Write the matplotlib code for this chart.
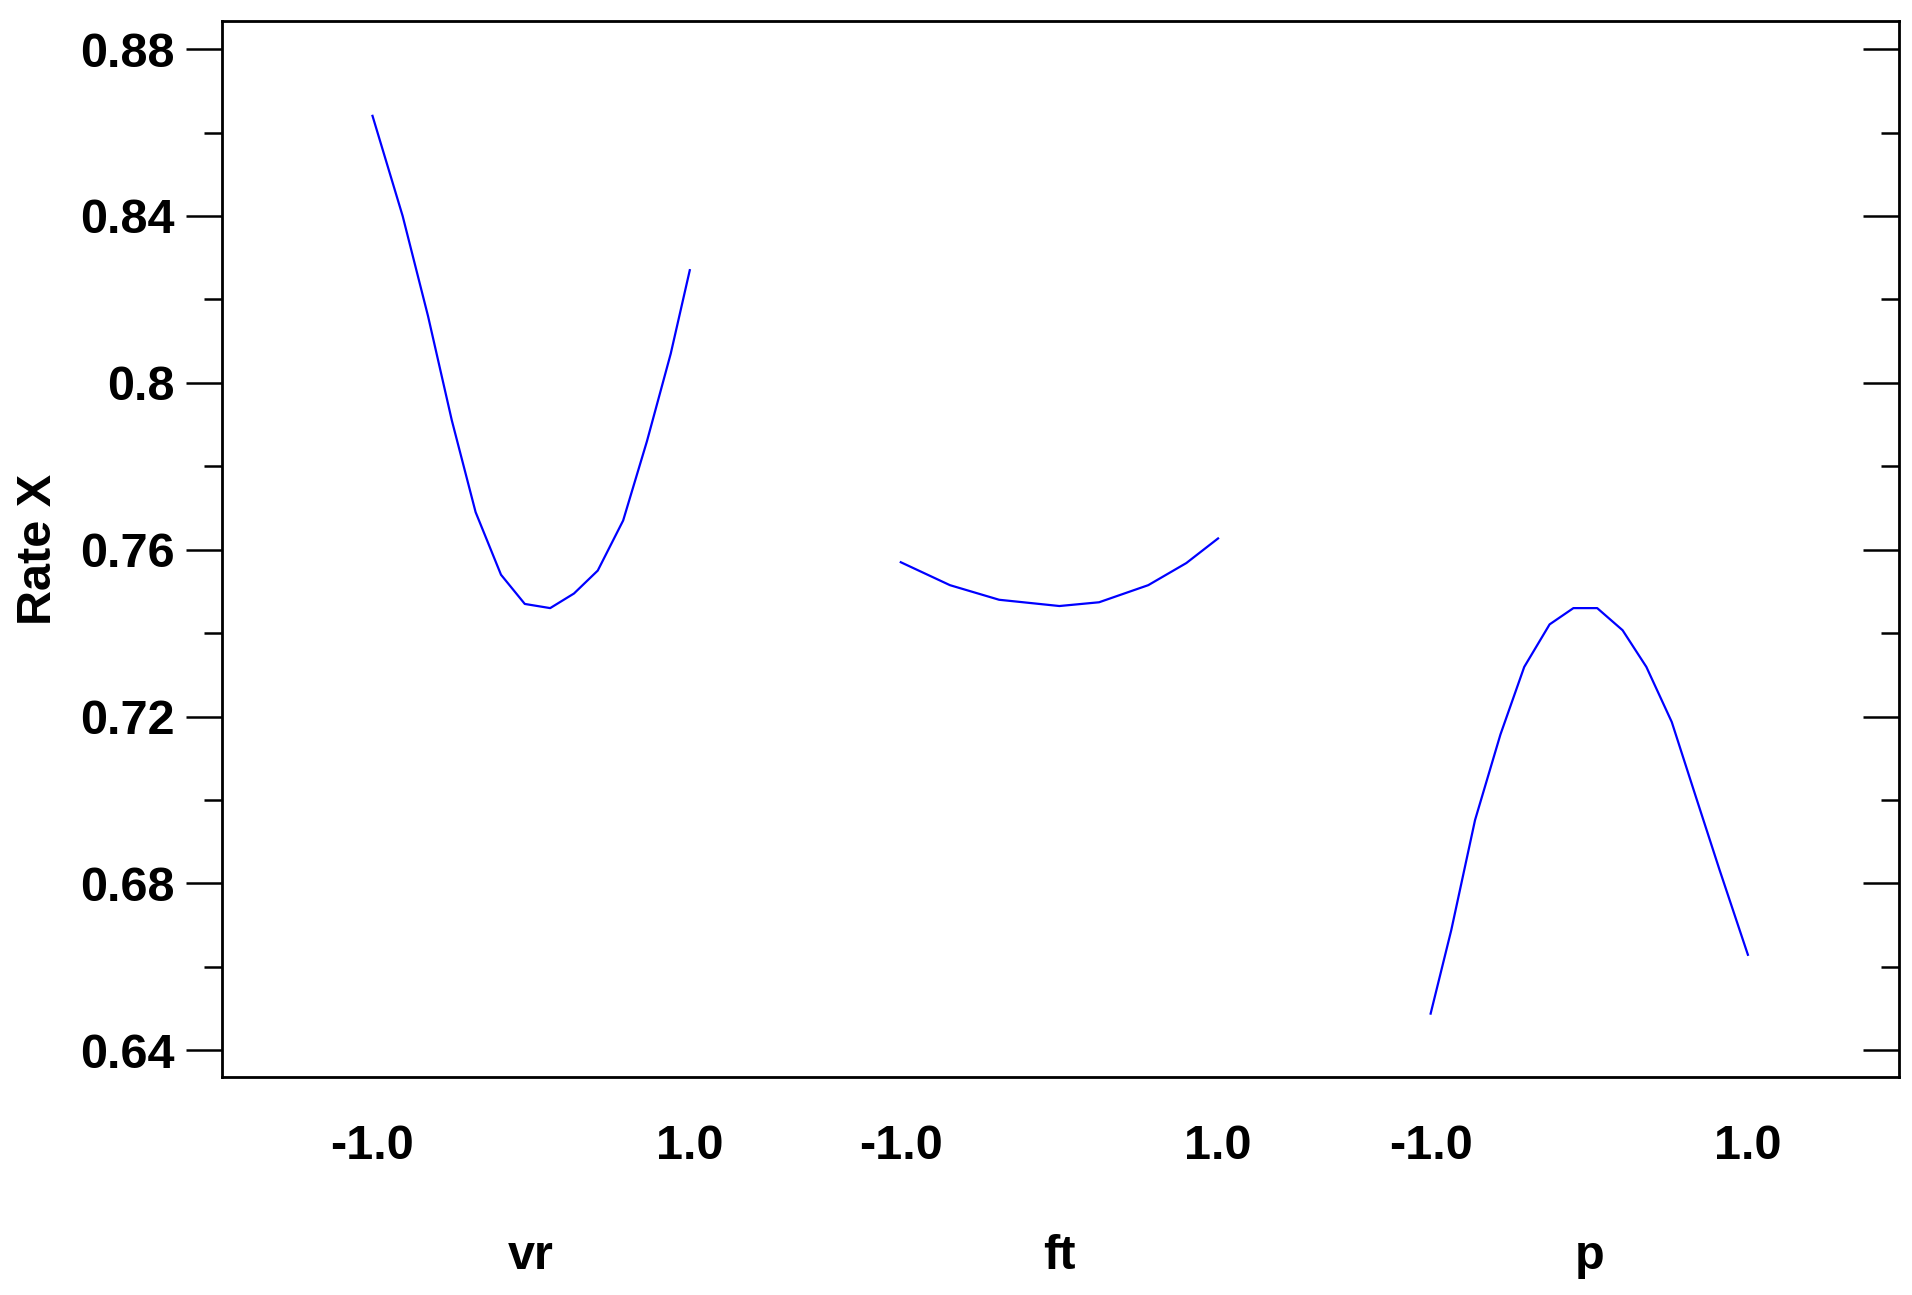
import matplotlib
matplotlib.use("Agg")
import matplotlib.pyplot as plt
from matplotlib.ticker import MultipleLocator, NullFormatter
from matplotlib.transforms import blended_transform_factory

plt.rcParams.update({
    "font.family": ["Liberation Sans", "DejaVu Sans"],
    "font.weight": "bold",
    "font.size": 35,
})

factors = ["vr", "ft", "p"]
centers = [0.0, 3.33, 6.67]

vr_x = [-1.0, -0.81, -0.65, -0.5, -0.35, -0.19, -0.04, 0.12, 0.27, 0.42, 0.58, 0.73, 0.88, 1.0]
vr_y = [0.864, 0.840, 0.816, 0.791, 0.769, 0.754, 0.747, 0.746, 0.7495, 0.755, 0.767, 0.786, 0.807, 0.827]

ft_x = [-1.0, -0.69, -0.38, 0.0, 0.25, 0.56, 0.8, 1.0]
ft_y = [0.757, 0.7515, 0.748, 0.7465, 0.7474, 0.7515, 0.7568, 0.7627]

p_x = [-1.0, -0.87, -0.72, -0.56, -0.41, -0.25, -0.1, 0.05, 0.21, 0.36, 0.52, 0.67, 0.82, 1.0]
p_y = [0.6488, 0.6688, 0.6952, 0.7157, 0.7319, 0.7421, 0.746, 0.746, 0.7407, 0.7319, 0.7187, 0.701, 0.6834, 0.6629]

series = [(vr_x, vr_y), (ft_x, ft_y), (p_x, p_y)]

fig = plt.figure(figsize=(19.12, 12.95), dpi=100)
ax = fig.add_axes([0.116, 0.168, 0.877, 0.816])

for c, (xs, ys) in zip(centers, series):
    ax.plot([c + x for x in xs], ys, color="#0000ff", linewidth=1.6)

ax.set_xlim(-1.95, 8.62)
ax.set_ylim(0.6335, 0.8868)
ax.set_yticks([0.64, 0.68, 0.72, 0.76, 0.8, 0.84, 0.88])
ax.set_yticklabels(["0.64", "0.68", "0.72", "0.76", "0.8", "0.84", "0.88"])
ax.yaxis.set_minor_locator(MultipleLocator(0.02))
ax.set_xticks([])
ax.tick_params(axis="y", which="both", direction="out", width=1.8, pad=8)
ax.tick_params(axis="y", which="major", length=26)
ax.tick_params(axis="y", which="minor", length=13)
for s in ax.spines.values():
    s.set_linewidth(2.0)
ax.set_ylabel("Rate X", labelpad=14, fontweight="bold")

# right side ticks point inward
rax = ax.twinx()
rax.set_ylim(ax.get_ylim())
rax.set_yticks(ax.get_yticks())
rax.yaxis.set_minor_locator(MultipleLocator(0.02))
rax.yaxis.set_major_formatter(NullFormatter())
rax.tick_params(axis="y", which="both", direction="in", width=1.8)
rax.tick_params(axis="y", which="major", length=26)
rax.tick_params(axis="y", which="minor", length=13)

trans = blended_transform_factory(ax.transData, fig.transFigure)
for name, c in zip(factors, centers):
    ax.text(c - 1, 0.115, "-1.0", transform=trans, ha="center", va="center")
    ax.text(c + 1, 0.115, "1.0", transform=trans, ha="center", va="center")
    ax.text(c, 0.03, name, transform=trans, ha="center", va="center")

fig.savefig("out.png", dpi=100)
